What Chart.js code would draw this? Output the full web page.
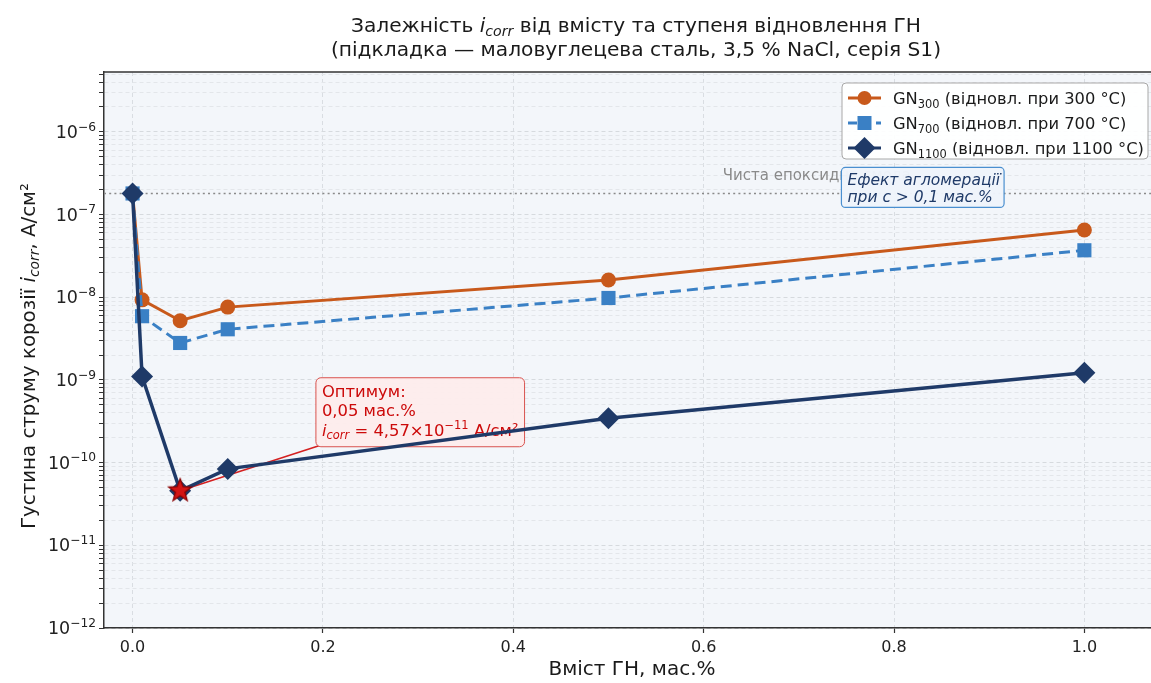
<!DOCTYPE html>
<html>
<head>
<meta charset="utf-8">
<script src="https://cdn.jsdelivr.net/npm/chart.js@4.4.1/dist/chart.umd.min.js"></script>
<style>
  html, body { margin: 0; padding: 0; background: #fff; overflow: hidden; }
</style>
</head>
<body>
<canvas id="chart" width="1151" height="683"></canvas>
<script>
const FONT = 'DejaVu Sans';

// data
const contentX = [0, 0.01, 0.05, 0.1, 0.5, 1.0];
const gn300 = [1.8e-7, 9.3e-9, 5.2e-9, 7.6e-9, 1.62e-8, 6.5e-8];
const gn700 = [1.8e-7, 5.9e-9, 2.8e-9, 4.1e-9, 9.8e-9, 3.7e-8];
const gn1100 = [1.8e-7, 1.1e-9, 4.57e-11, 8.4e-11, 3.45e-10, 1.22e-9];
const epoxyValue = 1.8e-7;
const optimumX = [0.05];
const optimumY = [4.57e-11];
const xTicks = [0, 0.2, 0.4, 0.6, 0.8, 1.0];
const yDecades = [-12, -11, -10, -9, -8, -7, -6];
const xMin = -0.03, xMax = 1.07;
const yMin = 1e-12, yMax = 5.3e-6;

const COL300 = '#c8591b';
const COL700 = '#3a80c5';
const COL1100 = '#1f3a68';

function toPoints(xs, ys) {
  return xs.map((x, i) => ({ x: x, y: ys[i] }));
}

// red star marker
function makeStar(r) {
  const c = document.createElement('canvas');
  const s = Math.ceil(r * 2 + 4);
  c.width = s; c.height = s;
  const g = c.getContext('2d');
  g.beginPath();
  for (let i = 0; i < 10; i++) {
    const rad = i % 2 === 0 ? r : r * 0.42;
    const a = -Math.PI / 2 + i * Math.PI / 5;
    g.lineTo(s / 2 + rad * Math.cos(a), s / 2 + rad * Math.sin(a));
  }
  g.closePath();
  g.fillStyle = '#d41414';
  g.fill();
  g.lineWidth = 1.3;
  g.strokeStyle = '#8b0000';
  g.stroke();
  return c;
}

// rich text: segments with italic / sub / sup
function norm(s) { return typeof s === 'string' ? { t: s } : s; }
function segFont(s, size) {
  const sz = (s.sub || s.sup) ? size * 0.7 : size;
  return (s.it ? 'italic ' : '') + sz + 'px "' + FONT + '"';
}
function richWidth(ctx, segs, size) {
  let w = 0;
  segs.map(norm).forEach(s => { ctx.font = segFont(s, size); w += ctx.measureText(s.t).width; });
  return w;
}
function drawRich(ctx, segs, x, y, size, align, color) {
  const w = richWidth(ctx, segs, size);
  let cx = align === 'center' ? x - w / 2 : (align === 'right' ? x - w : x);
  ctx.textAlign = 'left';
  ctx.textBaseline = 'alphabetic';
  ctx.fillStyle = color;
  segs.map(norm).forEach(s => {
    ctx.font = segFont(s, size);
    const dy = s.sub ? size * 0.22 : (s.sup ? -size * 0.42 : 0);
    ctx.fillText(s.t, cx, y + dy);
    cx += ctx.measureText(s.t).width;
  });
  return w;
}
function roundRect(ctx, x, y, w, h, r) {
  ctx.beginPath();
  ctx.moveTo(x + r, y);
  ctx.arcTo(x + w, y, x + w, y + h, r);
  ctx.arcTo(x + w, y + h, x, y + h, r);
  ctx.arcTo(x, y + h, x, y, r);
  ctx.arcTo(x, y, x + w, y, r);
  ctx.closePath();
}

const decorations = {
  id: 'decorations',
  beforeDraw(chart) {
    const ctx = chart.ctx, a = chart.chartArea;
    ctx.save();
    ctx.fillStyle = '#fff';
    ctx.fillRect(0, 0, chart.width, chart.height);
    ctx.fillStyle = '#f3f6fa';
    ctx.fillRect(a.left, a.top, a.right - a.left, a.bottom - a.top);
    ctx.restore();
  },
  beforeDatasetsDraw(chart) {
    const ctx = chart.ctx, a = chart.chartArea;
    const xs = chart.scales.x, ys = chart.scales.y;
    ctx.save();
    // pure epoxy reference line
    const ey = ys.getPixelForValue(epoxyValue);
    ctx.strokeStyle = '#8a8a8a';
    ctx.lineWidth = 1.6;
    ctx.setLineDash([2, 3.2]);
    ctx.beginPath();
    ctx.moveTo(a.left, ey);
    ctx.lineTo(a.right, ey);
    ctx.stroke();
    ctx.setLineDash([]);
    ctx.font = '15px "' + FONT + '"';
    ctx.fillStyle = '#8a8a8a';
    ctx.textAlign = 'left';
    ctx.fillText('Чиста епоксидна смола', xs.getPixelForValue(0.62), ey - 13);

    // optimum annotation
    const px = xs.getPixelForValue(optimumX[0]);
    const py = ys.getPixelForValue(optimumY[0]);
    const tx = xs.getPixelForValue(0.2) - 1;
    const ay = ys.getPixelForValue(2e-10);
    const lines = [
      ['Оптимум:'],
      ['0,05 мас.%'],
      [{ t: 'i', it: true }, { t: 'corr', it: true, sub: true }, ' = 4,57×10', { t: '−11', sup: true }, ' А/см²']
    ];
    const fs = 16.4;
    let w = 0;
    lines.forEach(l => { w = Math.max(w, richWidth(ctx, l, fs)); });
    const bx = tx - 6, by = ay - 60, bw = w + 12, bh = 69;
    ctx.strokeStyle = '#d42020';
    ctx.lineWidth = 1.6;
    ctx.beginPath();
    ctx.moveTo(px, py);
    ctx.lineTo(bx + 3, by + bh - 1);
    ctx.stroke();
    roundRect(ctx, bx, by, bw, bh, 5);
    ctx.fillStyle = 'rgba(253,236,236,0.95)';
    ctx.fill();
    ctx.lineWidth = 1;
    ctx.strokeStyle = '#d9534f';
    ctx.stroke();
    drawRich(ctx, lines[0], tx, ay - 41, fs, 'left', '#cc0a0a');
    drawRich(ctx, lines[1], tx, ay - 22, fs, 'left', '#cc0a0a');
    drawRich(ctx, lines[2], tx, ay - 2, fs, 'left', '#cc0a0a');
    ctx.restore();
  },
  afterDatasetsDraw(chart) {
    const ctx = chart.ctx, a = chart.chartArea;
    const xs = chart.scales.x, ys = chart.scales.y;
    ctx.save();
    // agglomeration note
    const ey = ys.getPixelForValue(epoxyValue);
    const nx = xs.getPixelForValue(0.75) + 1;
    const l1 = 'Ефект агломерації', l2 = 'при c > 0,1 мас.%';
    ctx.font = 'italic 15.5px "' + FONT + '"';
    const nw = Math.max(ctx.measureText(l1).width, ctx.measureText(l2).width);
    roundRect(ctx, nx - 6, ey - 26, nw + 10, 40, 4);
    ctx.fillStyle = 'rgba(238,244,251,0.97)';
    ctx.fill();
    ctx.strokeStyle = '#4a8fd0';
    ctx.lineWidth = 1.2;
    ctx.stroke();
    ctx.fillStyle = COL1100;
    ctx.textAlign = 'left';
    ctx.fillText(l1, nx, ey - 8);
    ctx.fillText(l2, nx, ey + 9);

    // legend
    const lx = 842, ly = 83, lw = 306, lh = 76;
    roundRect(ctx, lx, ly, lw, lh, 4);
    ctx.fillStyle = 'rgba(255,255,255,0.92)';
    ctx.fill();
    ctx.strokeStyle = '#a8a8a8';
    ctx.lineWidth = 1;
    ctx.stroke();
    const items = [
      { c: COL300, dash: [], m: 'circle', lab: ['GN', { t: '300', sub: true }, ' (відновл. при 300 °C)'] },
      { c: COL700, dash: [9, 5], m: 'square', lab: ['GN', { t: '700', sub: true }, ' (відновл. при 700 °C)'] },
      { c: COL1100, dash: [], m: 'diamond', lab: ['GN', { t: '1100', sub: true }, ' (відновл. при 1100 °C)'] }
    ];
    items.forEach((it, i) => {
      const cy = ly + 15 + i * 25;
      ctx.strokeStyle = it.c;
      ctx.lineWidth = 3;
      ctx.setLineDash(it.dash);
      ctx.beginPath();
      ctx.moveTo(848, cy);
      ctx.lineTo(881, cy);
      ctx.stroke();
      ctx.setLineDash([]);
      ctx.fillStyle = it.c;
      ctx.beginPath();
      if (it.m === 'circle') ctx.arc(864.5, cy, 7, 0, Math.PI * 2);
      else if (it.m === 'square') ctx.rect(857.5, cy - 7, 14, 14);
      else { ctx.moveTo(864.5, cy - 11); ctx.lineTo(875.5, cy); ctx.lineTo(864.5, cy + 11); ctx.lineTo(853.5, cy); ctx.closePath(); }
      ctx.fill();
      drawRich(ctx, it.lab, 893, cy + 6, 16.3, 'left', '#1a1a1a');
    });

    // top frame line
    ctx.strokeStyle = '#333';
    ctx.lineWidth = 1.5;
    ctx.beginPath();
    ctx.moveTo(a.left, a.top);
    ctx.lineTo(a.right, a.top);
    ctx.stroke();
    ctx.restore();
  },
  afterDraw(chart) {
    const ctx = chart.ctx, a = chart.chartArea;
    const ys = chart.scales.y;
    ctx.save();
    // y tick labels 10^n
    yDecades.forEach(e => {
      const y = ys.getPixelForValue(Math.pow(10, e));
      const sup = e < 0 ? '−' + Math.abs(e) : String(e);
      drawRich(ctx, ['10', { t: sup, sup: true }], a.left - 8, y + 6, 17.5, 'right', '#222');
    });
    // title
    const cx = 636;
    drawRich(ctx, ['Залежність ', { t: 'i', it: true }, { t: 'corr', it: true, sub: true }, ' від вмісту та ступеня відновлення ГН'], cx, 32, 20.2, 'center', '#1a1a1a');
    drawRich(ctx, ['(підкладка — маловуглецева сталь, 3,5 % NaCl, серія S1)'], cx, 56, 20.2, 'center', '#1a1a1a');
    // x axis title
    drawRich(ctx, ['Вміст ГН, мас.%'], 632, 675, 20, 'center', '#1a1a1a');
    // y axis title
    ctx.translate(35, 356);
    ctx.rotate(-Math.PI / 2);
    drawRich(ctx, ['Густина струму корозії ', { t: 'i', it: true }, { t: 'corr', it: true, sub: true }, ', А/см²'], 0, 0, 19.8, 'center', '#1a1a1a');
    ctx.restore();
  }
};

new Chart(document.getElementById('chart'), {
  type: 'line',
  data: {
    datasets: [
      {
        label: 'optimum',
        data: toPoints(optimumX, optimumY),
        pointStyle: makeStar(12),
        pointRadius: 12,
        showLine: false,
        order: 0
      },
      {
        label: 'GN1100',
        data: toPoints(contentX, gn1100),
        borderColor: COL1100,
        backgroundColor: COL1100,
        borderWidth: 3.5,
        pointStyle: 'rectRot',
        pointRadius: 11,
        pointBorderWidth: 0,
        order: 1
      },
      {
        label: 'GN700',
        data: toPoints(contentX, gn700),
        borderColor: COL700,
        backgroundColor: COL700,
        borderWidth: 3,
        borderDash: [11, 6],
        pointStyle: 'rect',
        pointRadius: 10,
        pointBorderWidth: 0,
        order: 2
      },
      {
        label: 'GN300',
        data: toPoints(contentX, gn300),
        borderColor: COL300,
        backgroundColor: COL300,
        borderWidth: 3,
        pointStyle: 'circle',
        pointRadius: 7.5,
        pointBorderWidth: 0,
        order: 3
      }
    ]
  },
  options: {
    responsive: false,
    animation: false,
    events: [],
    layout: { autoPadding: false, padding: { left: 0, top: 72, right: 0, bottom: 0 } },
    plugins: {
      legend: { display: false },
      title: { display: false },
      tooltip: { enabled: false }
    },
    elements: { line: { tension: 0 } },
    scales: {
      x: {
        type: 'linear',
        min: xMin,
        max: xMax,
        afterBuildTicks: (scale) => { scale.ticks = xTicks.map(v => ({ value: v })); },
        afterFit: (scale) => {
          scale.height = 55;
          scale.paddingLeft = 0;
          scale.paddingRight = 0;
        },
        ticks: {
          autoSkip: false,
          maxRotation: 0,
          padding: 5,
          color: '#222',
          font: { family: FONT, size: 16 },
          callback: (v) => Number(v).toFixed(1)
        },
        grid: { color: '#d9dde2', lineWidth: 1, tickLength: 5, tickColor: '#333', tickWidth: 1.2 },
        border: { color: '#333', width: 1.5, dash: [4, 3] }
      },
      y: {
        type: 'logarithmic',
        min: yMin,
        max: yMax,
        afterBuildTicks: (scale) => {
          const t = [];
          yDecades.forEach(e => {
            for (let k = 1; k < 10; k++) {
              const v = k * Math.pow(10, e);
              if (v <= yMax) t.push({ value: v, major: k === 1 });
            }
          });
          scale.ticks = t;
        },
        afterFit: (scale) => {
          scale.width = 104;
          scale.paddingTop = 0;
          scale.paddingBottom = 0;
        },
        ticks: { autoSkip: false, callback: () => '' },
        grid: {
          color: (c) => (c.tick && c.tick.major) ? '#d6dade' : '#e3e6ea',
          lineWidth: 1,
          tickLength: 5,
          tickColor: '#333',
          tickWidth: 1
        },
        border: { color: '#333', width: 1.5, dash: [4, 3] }
      }
    }
  },
  plugins: [decorations]
});
</script>
</body>
</html>
